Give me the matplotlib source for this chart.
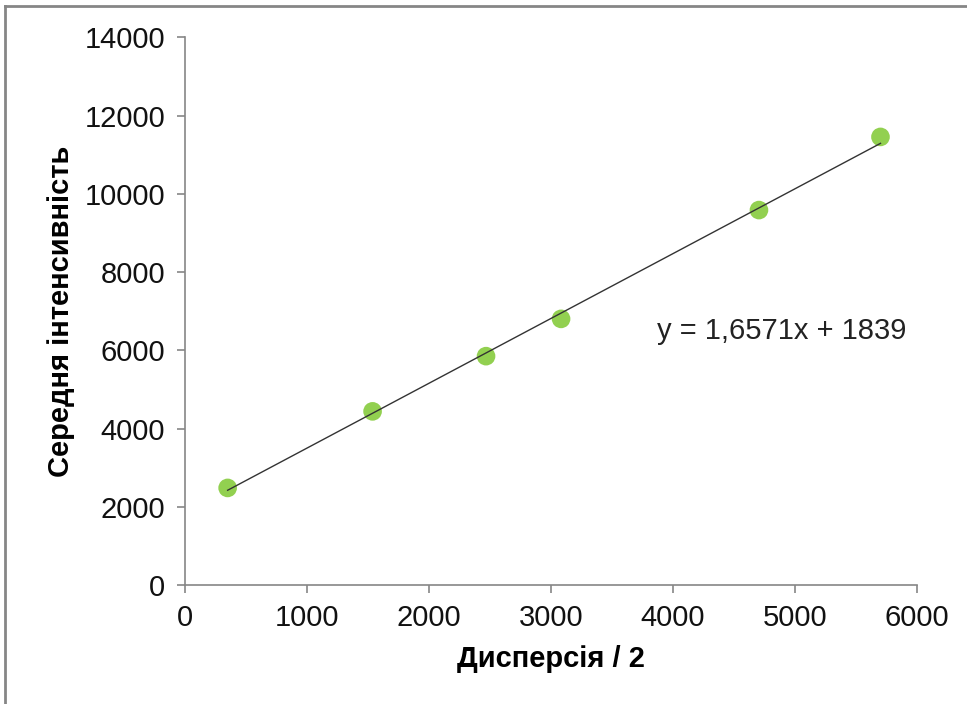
import matplotlib.pyplot as plt
from matplotlib.lines import Line2D
import numpy as np

plt.rcParams['font.family'] = ['Liberation Sans', 'DejaVu Sans']

# data
dispersion = [352, 1540, 2470, 3085, 4707, 5703]
intensity = [2482, 4439, 5850, 6803, 9584, 11454]

# trendline from the chart label
slope = 1.6571
intercept = 1839
eq_label = "y = 1,6571x + 1839"

x_ticks = [0, 1000, 2000, 3000, 4000, 5000, 6000]
y_ticks = [0, 2000, 4000, 6000, 8000, 10000, 12000, 14000]

grey = '#868686'

fig = plt.figure(figsize=(9.67, 7.04), dpi=100)
ax = fig.add_axes([0.191, 0.169, 0.757, 0.778])

x = np.array(dispersion)
xs = np.array([x.min(), x.max()])
ax.plot(xs, slope * xs + intercept, color='#333333', linewidth=1.0, zorder=3)
ax.scatter(dispersion, intensity, s=180, color='#92D050', edgecolors='none', zorder=2)

ax.set_xlim(0, 6000)
ax.set_ylim(0, 14000)
ax.set_xticks(x_ticks)
ax.set_yticks(y_ticks)

for side in ['top', 'right']:
    ax.spines[side].set_visible(False)
for side in ['left', 'bottom']:
    ax.spines[side].set_color(grey)
    ax.spines[side].set_linewidth(1.2)

ax.tick_params(axis='both', direction='out', length=6, width=1.2, color=grey,
               labelsize=21, labelcolor='#111111', pad=8)

ax.set_xlabel('Дисперсія / 2', fontsize=21, fontweight='bold', labelpad=9)
ax.set_ylabel('Середня інтенсивність', fontsize=21, fontweight='bold', labelpad=7)

ax.text(3870, 6500, eq_label, fontsize=21, color='#222222', va='center', ha='left')

# outer chart frame (only left and top edges fall inside the image)
fig.add_artist(Line2D([5 / 967, 5 / 967], [0, 1 - 6 / 704], color=grey, linewidth=2,
                      transform=fig.transFigure))
fig.add_artist(Line2D([5 / 967, 1], [1 - 6 / 704, 1 - 6 / 704], color=grey, linewidth=2,
                      transform=fig.transFigure))

fig.savefig('out.png', dpi=100)
